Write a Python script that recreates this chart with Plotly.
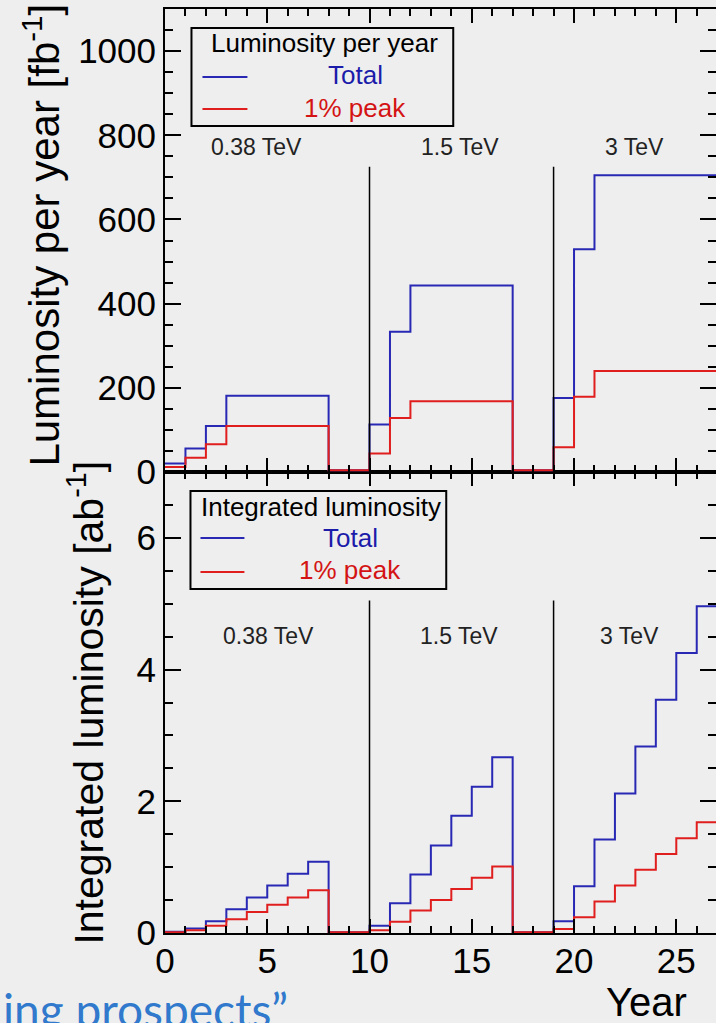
import plotly.graph_objects as go

# ---------------- data ----------------
years = list(range(0, 28))  # bin edges, year 0 .. 27

# luminosity per year [fb^-1], one value per year bin (0..26)
lumi_total = [20, 56, 109, 181, 181, 181, 181, 181, 4, 4,
              113, 333, 443, 443, 443, 443, 443, 4, 4,
              176, 529, 705, 705, 705, 705, 705, 705]
lumi_peak = [12, 34, 66, 109, 109, 109, 109, 109, 4, 4,
             44, 128, 168, 168, 168, 168, 168, 4, 4,
             59, 179, 240, 240, 240, 240, 240, 240]

# integrated luminosity [ab^-1], one value per year bin (0..26)
int_total = [0.02, 0.07, 0.18, 0.36, 0.54, 0.72, 0.90, 1.08, 0.01, 0.01,
             0.11, 0.45, 0.89, 1.33, 1.78, 2.22, 2.67, 0.01, 0.01,
             0.18, 0.71, 1.42, 2.12, 2.83, 3.54, 4.25, 4.96]
int_peak = [0.01, 0.04, 0.11, 0.21, 0.32, 0.43, 0.54, 0.65, 0.01, 0.01,
            0.04, 0.17, 0.34, 0.50, 0.67, 0.84, 1.01, 0.01, 0.01,
            0.06, 0.24, 0.48, 0.72, 0.96, 1.20, 1.44, 1.68]

stage_labels = ["0.38 TeV", "1.5 TeV", "3 TeV"]
stage_boundaries = [10, 19]
x_ticks = [0, 5, 10, 15, 20, 25]
top_ticks = [0, 200, 400, 600, 800, 1000]
bottom_ticks = [0, 2, 4, 6]

# ---------------- geometry / style ----------------
W, H = 716, 1023
PL, PR, PT, PB = 164.5, 716, 9, 933   # plot area in pixels
SPLIT_PX = 472


def fx(px):
    return (px - PL) / (PR - PL)


def fy(py):
    return (PB - py) / (PB - PT)


split = fy(SPLIT_PX)
BLUE = "#2828b4"
RED = "#e01e1e"
BLUE_T = "#1c1caa"
RED_T = "#d41414"
BG = "#eeeeee"
FONT = "Liberation Sans, Arial, Helvetica, sans-serif"
XMAX = (PR - PL) / 20.47


def step(v):
    return list(v) + [v[-1]]


fig = go.Figure()
for vals, col, xa, ya in [
    (lumi_total, BLUE, "x2", "y2"), (lumi_peak, RED, "x2", "y2"),
    (int_total, BLUE, "x", "y"), (int_peak, RED, "x", "y"),
]:
    fig.add_trace(go.Scatter(x=years, y=step(vals), mode="lines", line_shape="hv",
                             line=dict(color=col, width=2), xaxis=xa, yaxis=ya,
                             showlegend=False, hoverinfo="skip"))
# invisible traces to activate the right-side tick axes
fig.add_trace(go.Scatter(x=[None], y=[None], xaxis="x", yaxis="y3", showlegend=False))
fig.add_trace(go.Scatter(x=[None], y=[None], xaxis="x2", yaxis="y4", showlegend=False))

tickfont = dict(family=FONT, size=35, color="black")
xcommon = dict(range=[0, XMAX], showline=True, linecolor="black", linewidth=2,
               mirror="ticks", ticks="inside", ticklen=14, tickwidth=1.5, tickcolor="black",
               tickvals=x_ticks, showgrid=False, zeroline=False,
               minor=dict(dtick=1, ticks="inside", ticklen=7, tickwidth=1.5, tickcolor="black"))
ycommon = dict(showline=True, linecolor="black", linewidth=2, mirror=False,
               ticks="inside", ticklen=16, tickwidth=1.5, tickcolor="black",
               showgrid=False, zeroline=False, tickfont=tickfont)
yright = dict(side="right", showline=False, ticks="inside", ticklen=16, tickwidth=1.5,
              tickcolor="black", showgrid=False, zeroline=False, showticklabels=False)

fig.update_layout(
    width=W, height=H,
    margin=dict(l=PL, r=W - PR, t=PT, b=H - PB, pad=0),
    paper_bgcolor=BG, plot_bgcolor=BG,
    font=dict(family=FONT, color="black"),
    xaxis=dict(**xcommon, anchor="y", domain=[0, 1], tickfont=tickfont,
               ticklabelstandoff=-4),
    xaxis2=dict(**xcommon, anchor="y2", domain=[0, 1], matches="x", showticklabels=False),
    yaxis=dict(**ycommon, domain=[0, split], range=[0, 7], tickvals=bottom_ticks,
               anchor="x",
               minor=dict(dtick=0.5, ticks="inside", ticklen=8, tickwidth=1.5, tickcolor="black")),
    yaxis2=dict(**ycommon, domain=[split, 1], range=[0, 1100], tickvals=top_ticks,
                anchor="x2",
                minor=dict(dtick=50, ticks="inside", ticklen=8, tickwidth=1.5, tickcolor="black")),
    yaxis3=dict(**yright, overlaying="y", anchor="x", range=[0, 7], tickvals=bottom_ticks,
                minor=dict(dtick=0.5, ticks="inside", ticklen=8, tickwidth=1.5, tickcolor="black")),
    yaxis4=dict(**yright, overlaying="y2", anchor="x2", range=[0, 1100], tickvals=top_ticks,
                minor=dict(dtick=50, ticks="inside", ticklen=8, tickwidth=1.5, tickcolor="black")),
)

shapes = []
annotations = []

# stage separators
for xb in stage_boundaries:
    shapes.append(dict(type="line", xref="x2", yref="y2", x0=xb, x1=xb, y0=0, y1=725,
                       line=dict(color="black", width=1.5)))
    shapes.append(dict(type="line", xref="x", yref="y", x0=xb, x1=xb, y0=0, y1=5.05,
                       line=dict(color="black", width=1.5)))

# stage labels
top_lab_x = [4.47, 14.4, 22.95]
bot_lab_x = [5.06, 14.38, 22.7]
for lab, xt, xbm in zip(stage_labels, top_lab_x, bot_lab_x):
    annotations.append(dict(text=lab, x=xt, y=773, xref="x2", yref="y2", showarrow=False,
                            font=dict(family=FONT, size=23, color="#222222")))
    annotations.append(dict(text=lab, x=xbm, y=4.51, xref="x", yref="y", showarrow=False,
                            font=dict(family=FONT, size=23, color="#222222")))


# legends (drawn in pixel positions)
def legend(box, title, title_xy, entries):
    x0, x1, y0, y1 = box
    shapes.append(dict(type="rect", xref="paper", yref="paper", x0=fx(x0), x1=fx(x1),
                       y0=fy(y1), y1=fy(y0), line=dict(color="black", width=2)))
    annotations.append(dict(text=title, x=fx(title_xy[0]), y=fy(title_xy[1]), xref="paper",
                            yref="paper", showarrow=False, xanchor="center", yanchor="middle",
                            font=dict(family=FONT, size=26, color="black")))
    for txt, col, tcol, lx0, lx1, ly, tx, ty in entries:
        shapes.append(dict(type="line", xref="paper", yref="paper", x0=fx(lx0), x1=fx(lx1),
                           y0=fy(ly), y1=fy(ly), line=dict(color=col, width=2)))
        annotations.append(dict(text=txt, x=fx(tx), y=fy(ty), xref="paper", yref="paper",
                                showarrow=False, xanchor="center", yanchor="middle",
                                font=dict(family=FONT, size=26, color=tcol)))


legend((191, 453, 28, 126), "Luminosity per year", (324.5, 43),
       [("Total", BLUE, BLUE_T, 202, 247, 77, 355, 75),
        ("1% peak", RED, RED_T, 202, 247, 109, 355, 108)])
legend((190, 446, 491, 589), "Integrated luminosity", (321, 507),
       [("Total", BLUE, BLUE_T, 200, 244, 538, 350, 538),
        ("1% peak", RED, RED_T, 200, 244, 572, 350, 570)])

# axis titles
annotations.append(dict(text="Luminosity per year [fb<sup>-1</sup>]", textangle=-90,
                        x=fx(41), y=fy(235), xref="paper", yref="paper", showarrow=False,
                        xanchor="center", yanchor="middle",
                        font=dict(family=FONT, size=42, color="black")))
annotations.append(dict(text="Integrated luminosity [ab<sup>-1</sup>]", textangle=-90,
                        x=fx(85), y=fy(703), xref="paper", yref="paper", showarrow=False,
                        xanchor="center", yanchor="middle",
                        font=dict(family=FONT, size=41, color="black")))
annotations.append(dict(text="Year", x=fx(646.5), y=fy(1002), xref="paper", yref="paper",
                        showarrow=False, xanchor="center", yanchor="middle",
                        font=dict(family=FONT, size=40, color="black")))
# slide text fragment at the bottom
annotations.append(dict(text="ing prospects\u201d", x=fx(0), y=fy(1009), xref="paper",
                        yref="paper", showarrow=False, xanchor="left", yanchor="middle",
                        font=dict(family="Lato, Open Sans, sans-serif", size=46, color="#3079cc")))

fig.update_layout(shapes=shapes, annotations=annotations)
fig.write_html("out.html")
